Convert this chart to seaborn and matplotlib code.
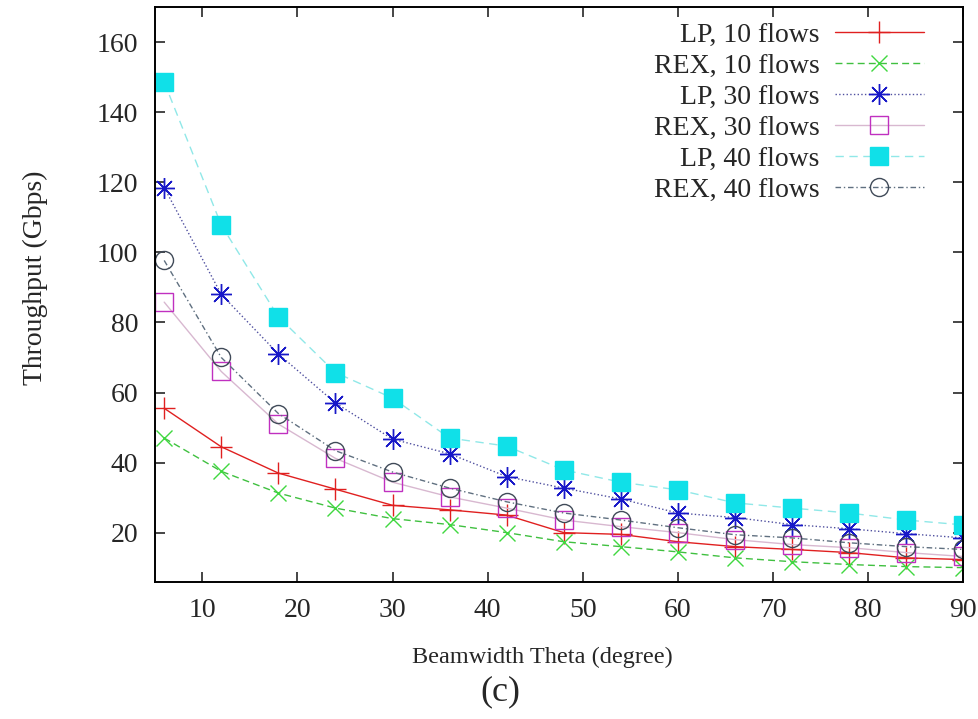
import numpy as np
import pandas as pd
import seaborn as sns
import matplotlib
matplotlib.use("Agg")
import matplotlib.pyplot as plt

# Beamwidth values (degree)
theta = [6, 12, 18, 24, 30, 36, 42, 48, 54, 60, 66, 72, 78, 84, 90]

# Throughput (Gbps)
lp_10 = [55.5, 44.5, 37, 32.4, 27.8, 26.5, 25, 20, 19.5, 17.4, 16, 15.2, 14.3, 12.8, 12.3]
rex_10 = [47, 37.5, 31.3, 27, 24, 22.3, 20, 17.4, 16, 14.5, 12.8, 11.7, 10.9, 10.3, 10]
lp_30 = [118.5, 88, 71, 57, 46.7, 42.5, 36, 32.7, 29.6, 25.6, 24.3, 22.3, 21.1, 19.7, 18.5]
rex_30 = [85.8, 66, 51, 41.2, 34.4, 30.2, 27, 23.6, 21.7, 20, 18, 16.6, 15.7, 14.3, 13.2]
lp_40 = [148.6, 107.8, 81.6, 65.7, 58.4, 47, 44.7, 37.9, 34.4, 32.2, 28.5, 27, 25.6, 23.6, 22.2]
rex_40 = [97.7, 70, 54, 43.4, 37.3, 32.7, 28.8, 25.6, 23.6, 21.4, 19.4, 18.5, 17.1, 16, 15.2]

labels = ["LP, 10 flows", "REX, 10 flows", "LP, 30 flows",
          "REX, 30 flows", "LP, 40 flows", "REX, 40 flows"]
series = [lp_10, rex_10, lp_30, rex_30, lp_40, rex_40]

df = pd.DataFrame({
    "theta": theta * len(series),
    "tput": np.concatenate(series),
    "series": np.repeat(labels, len(theta)),
})

# gnuplot-like styling per series
styles = {
    "LP, 10 flows":  dict(marker="+", ls="-", mec="#e02020", mfc="none", ms=16, lc="#e02020"),
    "REX, 10 flows": dict(marker="x", ls=(0, (5, 3)), mec="#40d840", mfc="none", ms=11, lc="#40c040"),
    "LP, 30 flows":  dict(marker=(8, 2, 0), ls=":", mec="#1818c8", mfc="none", ms=15, lc="#5050a0"),
    "REX, 30 flows": dict(marker="s", ls="-", mec="#c030c0", mfc="none", ms=13, lc="#d8b8d0"),
    "LP, 40 flows":  dict(marker="s", ls=(0, (6, 4)), mec="#10e0e8", mfc="#10e0e8", ms=13, lc="#90e8e8"),
    "REX, 40 flows": dict(marker="o", ls=(0, (4, 2, 1, 2)), mec="#404a58", mfc="none", ms=13, lc="#607080"),
}

sns.set_style("ticks")
plt.rcParams["font.family"] = ["Liberation Serif", "DejaVu Serif"]

fig = plt.figure(figsize=(9.79, 7.19), dpi=100)
ax = fig.add_axes([0.158, 0.191, 0.826, 0.799])

for name in labels:
    st = styles[name]
    sub = df[df["series"] == name]
    sns.lineplot(data=sub, x="theta", y="tput", ax=ax, label=name,
                 color=st["lc"], marker=st["marker"], linestyle=st["ls"],
                 mec=st["mec"], mfc=st["mfc"], ms=st["ms"], mew=1.0,
                 lw=1.0, errorbar=None)

ax.set_xlim(5, 90)
ax.set_ylim(6, 170)
ax.set_xticks(range(10, 91, 10))
ax.set_yticks(range(20, 161, 20))
ax.tick_params(direction="in", length=7, width=1.2, top=True, right=True,
               labelsize=20, pad=12)
for sp in ax.spines.values():
    sp.set_linewidth(1.4)
    sp.set_color("black")

ax.set_xlabel("")
ax.set_ylabel("")
fig.text(35 / 979, 1 - 278 / 719, "Throughput (Gbps)", fontsize=20,
         rotation=90, ha="center", va="center")
fig.text(542 / 979, 1 - 657 / 719, "Beamwidth Theta (degree)", fontsize=17.5,
         ha="center", va="center")
fig.text(500 / 979, 1 - 692 / 719, "(c)", fontsize=26, ha="center", va="center")

ax.legend(loc="upper right", markerfirst=False, frameon=False, fontsize=20,
          handlelength=3.2, handletextpad=0.55, labelspacing=0.2,
          borderaxespad=0.15, bbox_to_anchor=(0.97, 1.0))

fig.savefig("out.png", dpi=100)
